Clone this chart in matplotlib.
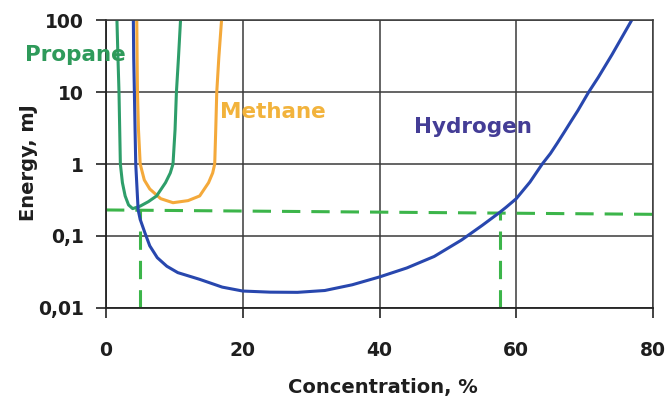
import matplotlib
matplotlib.use("Agg")
import matplotlib.pyplot as plt
import numpy as np

plt.rcParams['font.family'] = ['DejaVu Sans']

# Data (concentration %, energy mJ)
propane_x = [1.6, 1.75, 1.9, 2.1, 2.4, 2.8, 3.3, 3.9, 5.0, 6.2, 7.4, 8.7, 9.4, 9.8, 10.1, 10.3, 10.6, 10.9]
propane_y = [100, 30, 10, 1.0, 0.55, 0.36, 0.27, 0.24, 0.26, 0.30, 0.36, 0.55, 0.75, 1.0, 3.0, 10, 30, 100]

methane_x = [4.5, 4.55, 4.6, 4.75, 5.0, 5.6, 6.4, 8.0, 9.8, 12.0, 13.7, 15.0, 15.6, 15.9, 16.05, 16.2, 16.5, 16.9]
methane_y = [100, 30, 10, 3.0, 1.0, 0.6, 0.45, 0.33, 0.29, 0.31, 0.36, 0.55, 0.75, 1.0, 3.0, 10, 30, 100]

hydrogen_x = [4.0, 4.05, 4.15, 4.25, 4.35, 4.7, 5.0, 5.7, 6.4, 7.5, 8.9, 10.5, 13.7, 17.0, 20.0, 24.0, 28.0, 32.0,
              36.0, 40.0, 44.0, 48.0, 52.0, 55.0, 57.5, 58.5, 60.0, 61.0, 62.0, 63.8, 65.0, 66.0, 67.0, 68.0,
              69.0, 70.6, 72.0, 74.0, 76.9]
hydrogen_y = [100, 30, 10, 3.0, 1.0, 0.23, 0.17, 0.11, 0.073, 0.05, 0.038, 0.031, 0.025, 0.0195, 0.0172, 0.0166,
              0.0165, 0.0175, 0.021, 0.027, 0.036, 0.052, 0.088, 0.14, 0.21, 0.25, 0.33, 0.43, 0.56, 1.0, 1.4,
              1.95, 2.75, 3.9, 5.5, 10, 16, 33, 100]

h_dash_x = [0, 80]
h_dash_y = [0.23, 0.20]
v1_dash_x = [5.0, 5.0]
v1_dash_y = [0.01, 0.23]
v2_dash_x = [57.6, 57.6]
v2_dash_y = [0.01, 0.21]

x_ticks = [0, 20, 40, 60, 80]
y_ticks = [0.01, 0.1, 1, 10, 100]
y_tick_labels = ['0,01', '0,1', '1', '10', '100']

fig = plt.figure(figsize=(6.67, 4.0), dpi=100)
ax = fig.add_axes([106/667, 1-308/400, (653-106)/667, (308-20)/400])

ax.set_yscale('log')
ax.set_xlim(0, 80)
ax.set_ylim(0.01, 100)

grid_c = '#3a3a3a'
ax.set_xticks(x_ticks)
ax.set_yticks(y_ticks)
ax.set_yticklabels(y_tick_labels)
ax.minorticks_off()
ax.grid(True, color=grid_c, linewidth=1.1)
ax.set_axisbelow(True)
for s in ['top', 'right']:
    ax.spines[s].set_color(grid_c)
    ax.spines[s].set_linewidth(1.1)
for s in ['left', 'bottom']:
    ax.spines[s].set_color('#222222')
    ax.spines[s].set_linewidth(1.3)

ax.tick_params(axis='both', direction='out', length=7, width=1.2, color='#222222', labelsize=13.5)
ax.tick_params(axis='x', pad=17)
ax.tick_params(axis='y', pad=9)
for lbl in ax.get_xticklabels() + ax.get_yticklabels():
    lbl.set_fontweight('bold')
    lbl.set_color('#1e1e1e')

dash_c = '#3cb54a'
ax.plot(h_dash_x, h_dash_y, color=dash_c, lw=2.2, dashes=(6, 3.6))
ax.plot(v1_dash_x, v1_dash_y, color=dash_c, lw=2.2, dashes=(6, 3.6))
ax.plot(v2_dash_x, v2_dash_y, color=dash_c, lw=2.2, dashes=(6, 3.6))

ax.plot(methane_x, methane_y, color='#f4a93a', lw=2.2)
ax.plot(propane_x, propane_y, color='#2e9e6a', lw=2.2)
ax.plot(hydrogen_x, hydrogen_y, color='#2847ae', lw=2.2)

fig.text(25/667, 1-55/400, 'Propane', color='#2e9a5a', fontsize=15.5, fontweight='bold', ha='left', va='center')
fig.text(220/667, 1-112/400, 'Methane', color='#f2b33c', fontsize=15.5, fontweight='bold', ha='left', va='center')
fig.text(414/667, 1-127/400, 'Hydrogen', color='#443d96', fontsize=15.5, fontweight='bold', ha='left', va='center')

ax.set_xlabel('Concentration, %', fontsize=14, fontweight='bold', color='#1e1e1e')
ax.set_ylabel('Energy, mJ', fontsize=14, fontweight='bold', color='#1e1e1e')
ax.xaxis.set_label_coords(383/667, 1-388/400, transform=fig.transFigure)
ax.yaxis.set_label_coords(28/667, 1-163/400, transform=fig.transFigure)
ax.xaxis.label.set_va('center')
ax.yaxis.label.set_va('center')

fig.savefig('out.png', dpi=100)
